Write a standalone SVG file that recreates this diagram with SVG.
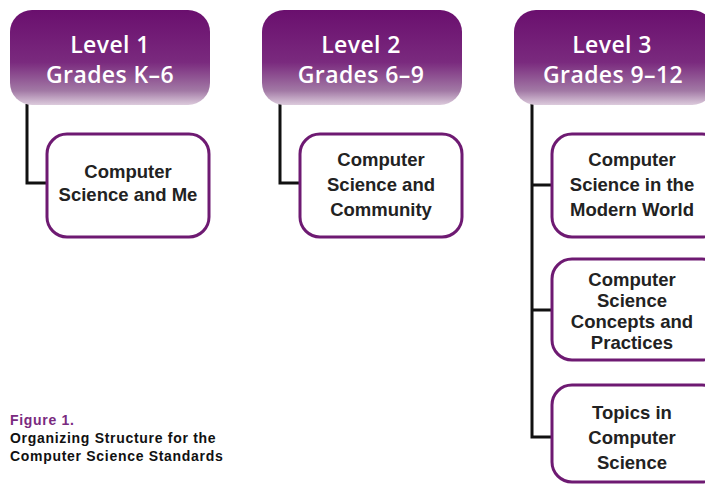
<svg xmlns="http://www.w3.org/2000/svg" width="705" height="484" viewBox="0 0 705 484">
<defs>
<linearGradient id="hg" x1="0" y1="0" x2="0" y2="1">
<stop offset="0" stop-color="#6a0f6e"/>
<stop offset="0.55" stop-color="#7a2a7e"/>
<stop offset="0.85" stop-color="#a279a5"/>
<stop offset="1" stop-color="#dccbdc"/>
</linearGradient>
<style>
.hdr{fill:url(#hg);}
.ht{fill:#ffffff;font-family:"Open Sans","Liberation Sans",sans-serif;font-weight:600;font-size:23px;letter-spacing:0.4px;text-anchor:middle;}
.box{fill:#ffffff;stroke:#6e1a72;stroke-width:3;}
.bt{fill:#222222;font-family:"Liberation Sans",Arial,sans-serif;font-weight:bold;font-size:18.5px;text-anchor:middle;}
.ln{fill:none;stroke:#111111;stroke-width:3;}
.cap{font-family:"Liberation Sans",Arial,sans-serif;font-weight:bold;font-size:14px;letter-spacing:0.7px;fill:#111111;}
</style>
</defs>
<rect width="705" height="484" fill="#ffffff"/>
<g id="connectors">
<path class="ln" d="M27,104 V183 H47"/>
<path class="ln" d="M280,104 V183 H300"/>
<path class="ln" d="M532,104 V437 H552 M532,185 H552 M532,310 H552"/>
</g>
<g id="level1">
<rect class="hdr" x="10" y="10" width="200" height="95" rx="22"/>
<text class="ht" x="110" y="53">Level 1</text>
<text class="ht" x="110" y="83">Grades K–6</text>
</g>
<g id="level2">
<rect class="hdr" x="262" y="10" width="200" height="95" rx="22"/>
<text class="ht" x="361" y="53">Level 2</text>
<text class="ht" x="361" y="83">Grades 6–9</text>
</g>
<g id="level3">
<rect class="hdr" x="514" y="10" width="200" height="95" rx="22"/>
<text class="ht" x="612" y="53">Level 3</text>
<text class="ht" x="613" y="83">Grades 9–12</text>
</g>
<g id="cs-and-me">
<rect class="box" x="47" y="134" width="162" height="103" rx="20"/>
<text class="bt" x="128" y="178">Computer</text>
<text class="bt" x="128" y="201">Science and Me</text>
</g>
<g id="cs-and-community">
<rect class="box" x="300" y="134" width="162" height="103" rx="20"/>
<text class="bt" x="381" y="166">Computer</text>
<text class="bt" x="381" y="191">Science and</text>
<text class="bt" x="381" y="216">Community</text>
</g>
<g id="cs-modern-world">
<rect class="box" x="552" y="134" width="170" height="103" rx="20"/>
<text class="bt" x="632" y="166">Computer</text>
<text class="bt" x="632" y="191">Science in the</text>
<text class="bt" x="632" y="216">Modern World</text>
</g>
<g id="cs-concepts">
<rect class="box" x="552" y="259" width="170" height="101" rx="20"/>
<text class="bt" x="632" y="286">Computer</text>
<text class="bt" x="632" y="307">Science</text>
<text class="bt" x="632" y="328">Concepts and</text>
<text class="bt" x="632" y="349">Practices</text>
</g>
<g id="topics">
<rect class="box" x="552" y="385" width="170" height="97" rx="20"/>
<text class="bt" x="632" y="419">Topics in</text>
<text class="bt" x="632" y="444">Computer</text>
<text class="bt" x="632" y="469">Science</text>
</g>
<g id="caption">
<text class="cap" x="10" y="425" style="fill:#7a2a80">Figure 1.</text>
<text class="cap" x="10" y="443">Organizing Structure for the</text>
<text class="cap" x="10" y="461">Computer Science Standards</text>
</g>
</svg>
